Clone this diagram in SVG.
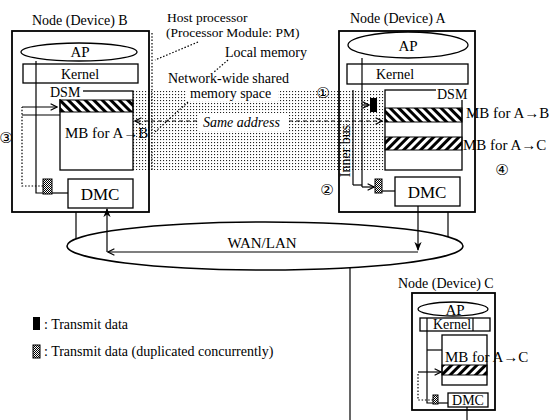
<svg xmlns="http://www.w3.org/2000/svg" width="549" height="420" viewBox="0 0 549 420">
<style>
text{font-family:"Liberation Serif","Times New Roman",serif;fill:#000}
.t13{font-size:13.5px}
.t14{font-size:14px}
.t15{font-size:15px}
.t17{font-size:17px}
.circ{font-family:"DejaVu Sans","Noto Sans CJK JP",sans-serif;font-size:15px}
.box{fill:none;stroke:#000;stroke-width:1.8}
.shape{fill:#fff;stroke:#000;stroke-width:1.3}
.ln{fill:none;stroke:#000;stroke-width:1.2}
.dot{fill:none;stroke:#000;stroke-width:1.2;stroke-dasharray:1.5 1.8}
.dash{fill:none;stroke:#000;stroke-width:1.2;stroke-dasharray:4 3}
</style>
<defs>
<pattern id="bs" width="6" height="6" patternUnits="userSpaceOnUse" patternTransform="rotate(-45)"><rect width="3" height="6" fill="#000"/></pattern>
<pattern id="fs" width="6" height="6" patternUnits="userSpaceOnUse" patternTransform="rotate(45)"><rect width="3" height="6" fill="#000"/></pattern>
<pattern id="dots" width="3" height="3" patternUnits="userSpaceOnUse"><rect x="1" y="1" width="1.1" height="1.1" fill="#222"/></pattern>
<pattern id="chk" width="2" height="2" patternUnits="userSpaceOnUse"><rect width="1" height="1" fill="#000"/><rect x="1" y="1" width="1" height="1" fill="#000"/></pattern>
<marker id="op" viewBox="0 0 10 10" refX="9" refY="5" markerWidth="8" markerHeight="8" orient="auto" markerUnits="userSpaceOnUse"><path d="M1,1 L9,5 L1,9" fill="none" stroke="#000" stroke-width="1.5"/></marker>
<marker id="fa" viewBox="0 0 10 10" refX="9" refY="5" markerWidth="9" markerHeight="9" orient="auto" markerUnits="userSpaceOnUse"><path d="M0,1 L10,5 L0,9 L3,5 Z" fill="#000"/></marker>
</defs>

<!-- shared memory space (dotted) -->
<g id="shared-space">
<rect x="133" y="90" width="252" height="80" fill="url(#dots)"/>
<rect x="186" y="87" width="92" height="14" fill="#fff"/>
<rect x="198" y="113" width="90" height="18" fill="#fff"/>
<line x1="152" y1="33" x2="152" y2="170" class="dot"/>
</g>

<!-- Node B -->
<g id="node-b">
<text x="32" y="25" class="t14">Node (Device) B</text>
<rect x="12" y="31" width="137" height="181" class="box"/>
<ellipse cx="79" cy="52" rx="58" ry="9" class="shape"/>
<text x="80" y="57" class="t15" text-anchor="middle">AP</text>
<rect x="23" y="64" width="115" height="19" class="shape"/>
<text x="80" y="79" class="t14" text-anchor="middle">Kernel</text>
<rect x="60" y="91" width="73" height="79" class="shape"/>
<rect x="60" y="100" width="73" height="12" fill="url(#bs)" stroke="#000" stroke-width="1"/>
<rect x="48" y="85" width="35" height="14" fill="#fff"/>
<text x="50" y="97" class="t14">DSM</text>
<text x="65" y="138" class="t15">MB for A→B</text>
<rect x="68" y="179" width="65" height="29" class="shape"/>
<text x="100" y="200" class="t17" text-anchor="middle">DMC</text>
<rect x="43" y="179" width="9" height="15" fill="url(#chk)" stroke="#000" stroke-width="1"/>
<polyline points="36,61 36,193 43,193" class="ln"/>
<line x1="52" y1="193" x2="68" y2="193" class="ln"/>
<line x1="22" y1="115" x2="60" y2="115" class="ln"/>
<polyline points="43,186 22,186 22,107" class="dot"/>
<line x1="22" y1="107" x2="57" y2="107" class="ln" marker-end="url(#op)"/>
<text x="6" y="143" class="circ" text-anchor="middle">③</text>
</g>

<!-- Node A -->
<g id="node-a">
<text x="350" y="23" class="t14">Node (Device) A</text>
<rect x="339" y="31" width="136" height="181" class="box"/>
<ellipse cx="408" cy="45" rx="60" ry="13" class="shape"/>
<text x="408" y="51" class="t15" text-anchor="middle">AP</text>
<rect x="347" y="64" width="121" height="20" class="shape"/>
<text x="395" y="79" class="t14" text-anchor="middle">Kernel</text>
<rect x="385" y="90" width="77" height="80" class="shape"/>
<rect x="385" y="108" width="77" height="14" fill="url(#bs)" stroke="#000" stroke-width="1"/>
<rect x="385" y="137" width="77" height="13" fill="url(#fs)" stroke="#000" stroke-width="1"/>
<rect x="436" y="86" width="36" height="14" fill="#fff"/>
<text x="437" y="99" class="t14">DSM</text>
<rect x="370" y="98" width="7" height="14" fill="#000"/>
<line x1="353" y1="90" x2="353" y2="185" class="ln"/>
<polyline points="362,58 362,187" class="ln"/>
<line x1="353" y1="185" x2="362" y2="185" class="ln"/>
<line x1="362" y1="105" x2="369" y2="105" class="ln" marker-end="url(#op)"/>
<line x1="362" y1="187" x2="374" y2="187" class="ln" marker-end="url(#op)"/>
<rect x="375" y="179" width="7" height="14" fill="url(#chk)" stroke="#000" stroke-width="1"/>
<line x1="382" y1="191" x2="395" y2="191" class="ln"/>
<rect x="395" y="177" width="65" height="29" class="shape"/>
<text x="427" y="198" class="t17" text-anchor="middle">DMC</text>
<text transform="translate(350,151) rotate(-90)" class="t14" text-anchor="middle">Inner bus</text>
<text x="466" y="118" class="t15">MB for A→B</text>
<text x="463" y="150" class="t15">MB for A→C</text>
<text x="502" y="175" class="circ" text-anchor="middle">④</text>
<text x="327" y="195" class="circ" text-anchor="middle">②</text>
<text x="323" y="98" class="circ" text-anchor="middle">①</text>
</g>

<!-- Node C -->
<g id="node-c">
<text x="398" y="288" class="t14">Node (Device) C</text>
<rect x="412" y="293" width="83" height="117" class="box"/>
<ellipse cx="453" cy="309" rx="35" ry="7" class="shape"/>
<text x="455" y="315" class="t15" text-anchor="middle">AP</text>
<rect x="420" y="318" width="70" height="13" class="shape"/>
<line x1="427" y1="318" x2="427" y2="331" class="ln"/>
<line x1="473" y1="318" x2="473" y2="331" class="ln"/>
<text x="452" y="329" class="t14" text-anchor="middle">Kernel</text>
<rect x="442" y="335" width="45" height="50" class="shape"/>
<rect x="442" y="365" width="45" height="10" fill="url(#fs)" stroke="#000" stroke-width="1"/>
<text x="445" y="362" class="t15">MB for A→C</text>
<polyline points="427,331 427,403 433,403" class="ln"/>
<line x1="427" y1="350" x2="442" y2="350" class="ln"/>
<rect x="433" y="395" width="5" height="9" fill="url(#chk)" stroke="#000" stroke-width="1"/>
<line x1="438" y1="403" x2="448" y2="403" class="ln"/>
<rect x="448" y="393" width="40" height="14" class="shape"/>
<text x="468" y="405" class="t14" text-anchor="middle">DMC</text>
<polyline points="433,400 418,400 418,372" class="dot"/>
<line x1="418" y1="372" x2="441" y2="372" class="ln" marker-end="url(#op)"/>
</g>

<!-- Network -->
<g id="wan-lan">
<ellipse cx="265" cy="246" rx="198" ry="24" fill="none" stroke="#000" stroke-width="1.5"/>
<text x="262" y="248" class="t15" text-anchor="middle">WAN/LAN</text>
</g>

<!-- labels -->
<g id="labels">
<text x="167" y="22" class="t13">Host processor</text>
<text x="166" y="37" class="t13">(Processor Module: PM)</text>
<text x="225" y="57" class="t14">Local memory</text>
<text x="168" y="83" class="t14">Network-wide shared</text>
<text x="190" y="98" class="t14">memory space</text>
<text x="203" y="127" class="t14" font-style="italic">Same address</text>
</g>

<!-- connectors -->
<g id="connectors">
<line x1="198" y1="42" x2="155" y2="60" class="dot"/>
<line x1="228" y1="60" x2="214" y2="72" class="dot"/>
<line x1="188" y1="102" x2="155" y2="132" class="dot"/>
<line x1="197" y1="121" x2="135" y2="121" class="dash" marker-end="url(#op)"/>
<line x1="289" y1="121" x2="382" y2="121" class="dash" marker-end="url(#op)"/>
<line x1="76" y1="212" x2="76" y2="239" class="ln"/>
<line x1="448" y1="212" x2="448" y2="237" class="ln"/>
<line x1="418" y1="206" x2="418" y2="250" class="ln" marker-end="url(#fa)"/>
<line x1="418" y1="252" x2="108" y2="252" class="ln" marker-end="url(#op)"/>
<line x1="107" y1="252" x2="107" y2="209" class="ln" marker-end="url(#fa)"/>
<line x1="350" y1="268" x2="350" y2="420" class="ln"/>
<line x1="467" y1="407" x2="467" y2="420" class="ln"/>
</g>

<!-- legend -->
<g id="legend">
<rect x="33" y="317" width="7" height="13" fill="#000"/>
<text x="44" y="329" class="t14">: Transmit data</text>
<rect x="33" y="345" width="7" height="13" fill="url(#chk)" stroke="#000" stroke-width="1"/>
<text x="44" y="356" class="t14">: Transmit data (duplicated concurrently)</text>
</g>
</svg>
